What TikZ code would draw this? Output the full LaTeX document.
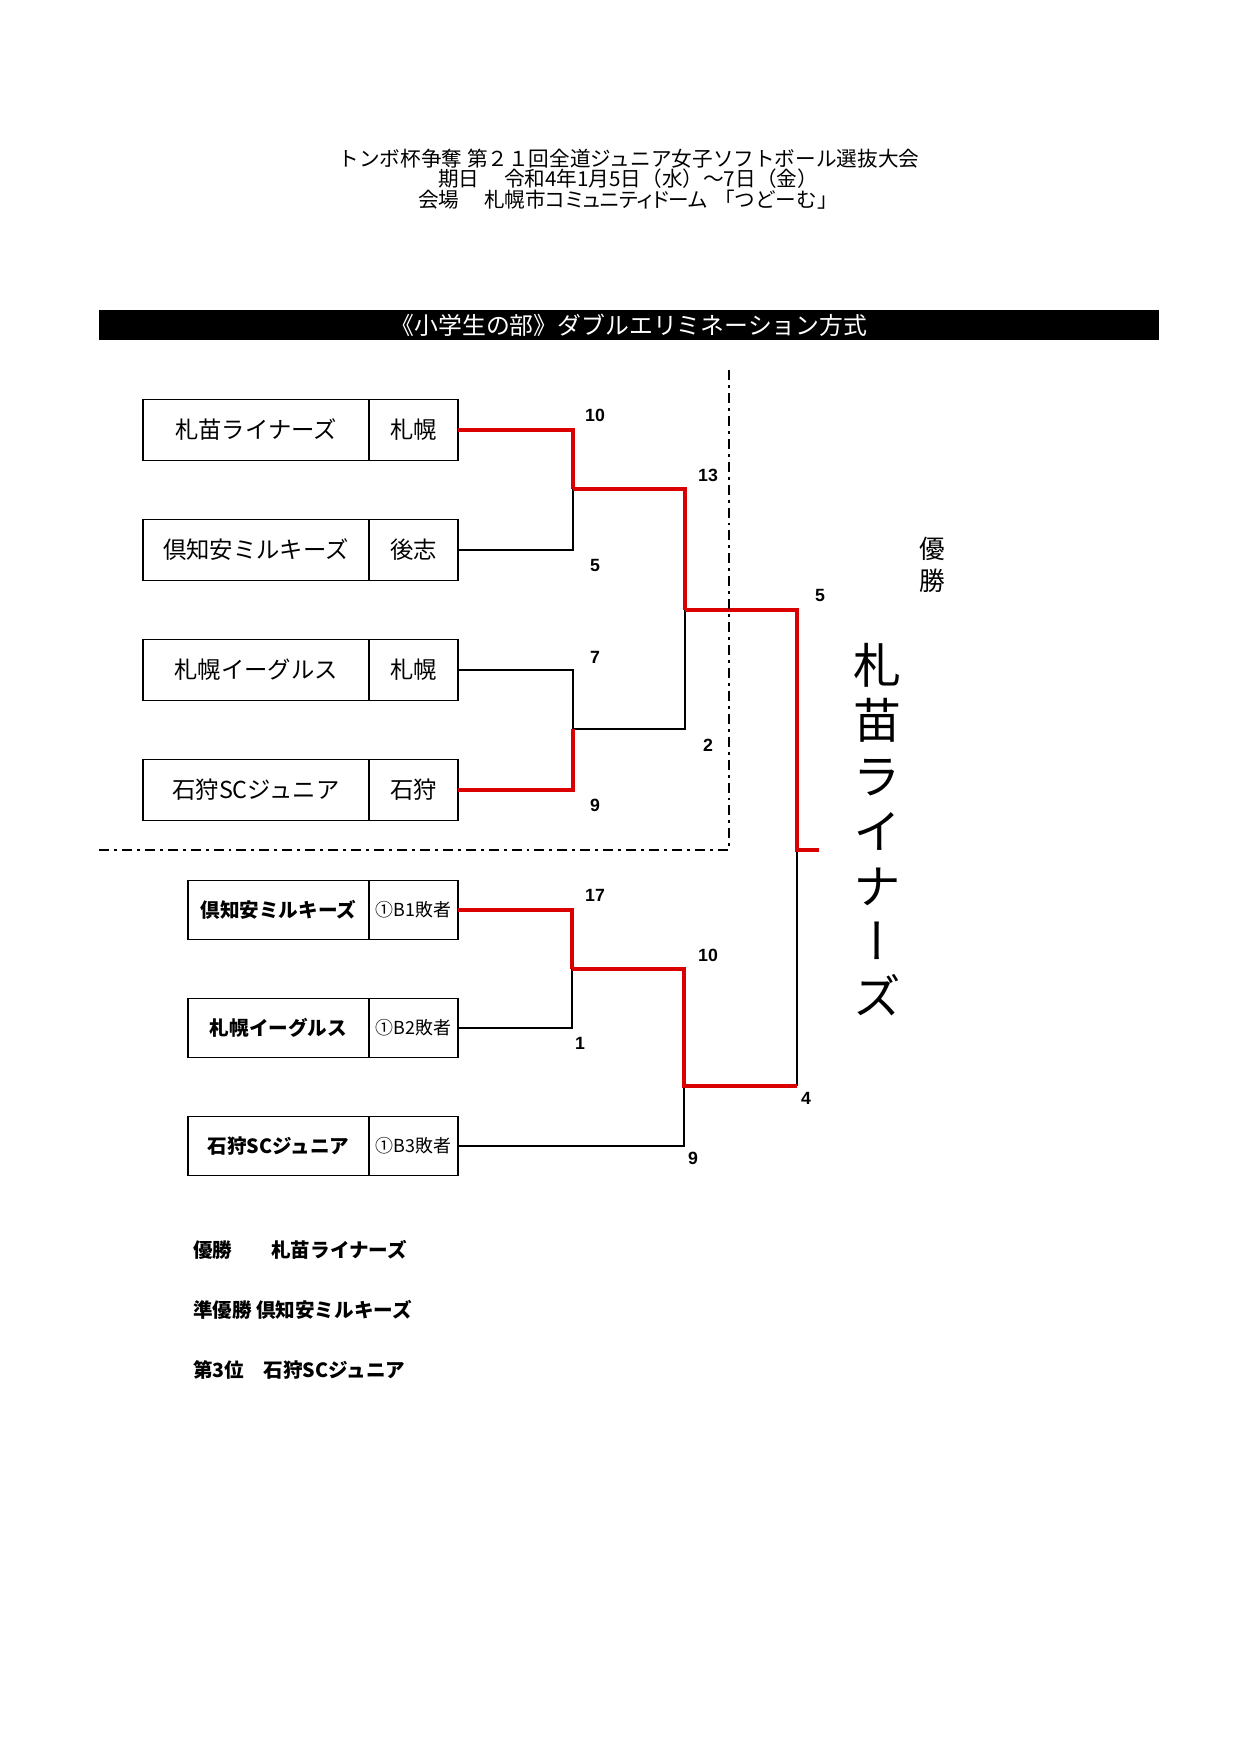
\documentclass[tikz,border=0pt]{standalone}
\usepackage{fontspec}
\setmainfont{Noto Sans CJK JP}
\newfontfamily\scorefont{Liberation Sans}
\newfontfamily\vertfont[RawFeature=+vert]{Noto Sans CJK JP}
\newfontfamily\propfont[RawFeature=+palt]{Noto Sans CJK JP}
\usetikzlibrary{positioning}
\definecolor{winred}{RGB}{218,0,0}

\begin{document}
\begin{tikzpicture}[x=0.48pt, y=-0.48pt,
        every node/.style={inner sep=0pt, outer sep=0pt},
        headline/.style={font=\fontsize{9.9}{11}\selectfont},
        namebox/.style={draw, line width=0.7pt, minimum width=108.5pt, minimum height=29.3pt, font=\fontsize{11.2}{13}\selectfont},
        areabox/.style={draw, line width=0.7pt, minimum width=42.7pt, minimum height=29.3pt, font=\fontsize{11.2}{13}\selectfont},
        subname/.style={namebox, minimum width=86.9pt, minimum height=28.3pt, font=\fontsize{9.4}{11}\selectfont\bfseries},
        subarea/.style={areabox, minimum height=28.3pt, font=\fontsize{8.6}{10}\selectfont},
        score/.style={font=\scorefont\fontsize{8.5}{10}\selectfont\bfseries},
        result/.style={anchor=west, font=\fontsize{9.4}{11}\selectfont\bfseries},
        win/.style={draw=winred, line width=1.9pt},
        lose/.style={draw, line width=0.6pt},
        zone/.style={draw, line width=1.2pt, dash pattern=on 4.8pt off 2.4pt on 1.4pt off 2.4pt}
    ]
    \useasboundingbox (0,0) rectangle (1240,1753);

    % Headings
    \node (title) [headline] at (629,159) {トンボ杯争奪 第２１回全道ジュニア女子ソフトボール選抜大会};
    \node (date) [headline] at (628,179) {期日\hspace{1.2em}令和4年1月5日（水）～7日（金）};
    \node (venue) [headline] at (628,200) {会場\hspace{1.2em}{\propfont 札幌市コミュニティドーム}\hspace{0.3em}「つどーむ」};
    \node (bar) [fill=black, text=white, minimum width=508.8pt, minimum height=14.4pt, font=\fontsize{11.45}{13}\selectfont] at (629,325) {《小学生の部》ダブルエリミネーション方式};

    % Winners bracket
    \node (t1) [namebox] at (256,430) {札苗ライナーズ};
    \node (a1) [areabox, right=0pt of t1] {札幌};
    \node (t2) [namebox] at (256,550) {倶知安ミルキーズ};
    \node (a2) [areabox, right=0pt of t2] {後志};
    \node (t3) [namebox] at (256,670) {札幌イーグルス};
    \node (a3) [areabox, right=0pt of t3] {札幌};
    \node (t4) [namebox] at (256,790) {石狩SCジュニア};
    \node (a4) [areabox, right=0pt of t4] {石狩};

    % Losers bracket
    \node (c1) [subname] at (278.5,910) {倶知安ミルキーズ};
    \node (d1) [subarea, right=0pt of c1] {①B1敗者};
    \node (c2) [subname] at (278.5,1028) {札幌イーグルス};
    \node (d2) [subarea, right=0pt of c2] {①B2敗者};
    \node (c3) [subname] at (278.5,1146) {石狩SCジュニア};
    \node (d3) [subarea, right=0pt of c3] {①B3敗者};

    % Joints
    \coordinate (q1) at (573,489);
    \coordinate (q2) at (573,729);
    \coordinate (sf) at (685,610);
    \coordinate (fa) at (797,850);
    \coordinate (fin) at (819,850);
    \coordinate (b1) at (572,969);
    \coordinate (b2) at (684,1086);
    \coordinate (fb) at (797,1086);

    % Lost games
    \draw[lose] (a2.east) -| (q1);
    \draw[lose] (a3.east) -| (q2);
    \draw[lose] (q2) -| (sf);
    \draw[lose] (d2.east) -| (b1);
    \draw[lose] (d3.east) -| (b2);
    \draw[lose] (fb) -- (fa);

    % Won games
    \draw[win] (a1.east) -| (q1);
    \draw[win] (a4.east) -| (q2);
    \draw[win] (q1) -| (sf);
    \draw[win] (sf) -| (fa) -- (fin);
    \draw[win] (d1.east) -| (b1);
    \draw[win] (b1) -| (b2) -- (fb);

    % Zone border
    \coordinate (zt) at (729,370);
    \coordinate (zc) at (729,850);
    \coordinate (zl) at (99,850);
    \draw[zone] (zt) -- (zc) -- (zl);

    % Scores
    \node[score] at (595,415) {10};
    \node[score] at (595,565) {5};
    \node[score] at (595,657) {7};
    \node[score] at (595,805) {9};
    \node[score] at (708,475) {13};
    \node[score] at (708,745) {2};
    \node[score] at (820,595) {5};
    \node[score] at (595,895) {17};
    \node[score] at (580,1043) {1};
    \node[score] at (708,955) {10};
    \node[score] at (806,1098) {4};
    \node[score] at (693,1158) {9};

    % Champion
    \node (wlabel) [align=center, font=\fontsize{12.3}{15.4}\selectfont] at (932,565) {優\\勝};
    \node (champ) [align=center, font=\vertfont\fontsize{23}{26.5}\selectfont] at (877,830) {札\\苗\\ラ\\イ\\ナ\\ー\\ズ};

    % Results
    \node (r1) [result] at (193,1250) {優勝　　札苗ライナーズ};
    \node (r2) [result] at (193,1310) {準優勝 倶知安ミルキーズ};
    \node (r3) [result] at (193,1370) {第3位　石狩SCジュニア};

\end{tikzpicture}
\end{document}
